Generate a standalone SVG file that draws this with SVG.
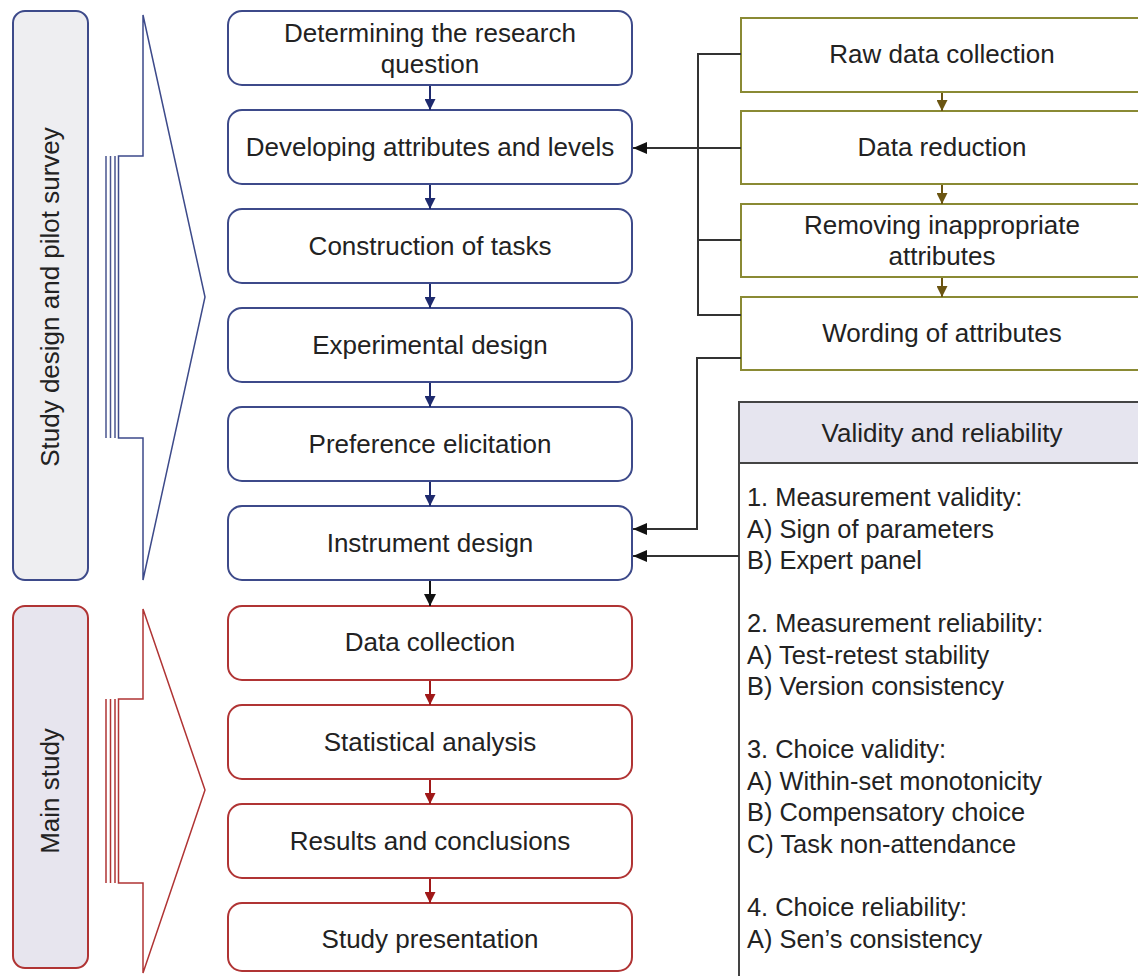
<svg xmlns="http://www.w3.org/2000/svg" width="1138" height="976" viewBox="0 0 1138 976">
<defs>
<style>
text{font-family:"Liberation Sans",Arial,sans-serif;font-size:26px;fill:#222;}
.c{text-anchor:middle;}
.v{font-size:25.4px;}
.blue{fill:#fff;stroke:#3d4a8a;stroke-width:2;}
.red{fill:#fff;stroke:#b03434;stroke-width:2;}
.olive{fill:#fff;stroke:#8a8a34;stroke-width:2;}
.ln{fill:none;stroke:#333;stroke-width:2;}
</style>
<marker id="aNavy" viewBox="0 0 10 10" refX="10" refY="5" markerWidth="11" markerHeight="11" markerUnits="userSpaceOnUse" orient="auto"><path d="M0,0 L10,5 L0,10 Z" fill="#1e2a6e"/></marker>
<marker id="aRed" viewBox="0 0 10 10" refX="10" refY="5" markerWidth="11" markerHeight="11" markerUnits="userSpaceOnUse" orient="auto"><path d="M0,0 L10,5 L0,10 Z" fill="#a01818"/></marker>
<marker id="aBlack" viewBox="0 0 10 10" refX="10" refY="5" markerWidth="12" markerHeight="12" markerUnits="userSpaceOnUse" orient="auto"><path d="M0,0 L10,5 L0,10 Z" fill="#111"/></marker>
<marker id="aOlive" viewBox="0 0 10 10" refX="10" refY="5" markerWidth="11" markerHeight="11" markerUnits="userSpaceOnUse" orient="auto"><path d="M0,0 L10,5 L0,10 Z" fill="#6b5512"/></marker>
<marker id="aLeft" viewBox="0 0 14 12" refX="14" refY="6" markerWidth="14" markerHeight="12" markerUnits="userSpaceOnUse" orient="auto"><path d="M0,0 L14,6 L0,12 Z" fill="#111"/></marker>
</defs>
<rect width="1138" height="976" fill="#fff"/>

<g id="phase-design">
<rect x="13" y="11" width="75" height="569" rx="12" fill="#eeeef1" stroke="#3d4a8a" stroke-width="2"/>
<text class="c" transform="translate(59,297) rotate(-90)">Study design and pilot survey</text>
<path d="M143,15 L205,297 L143,580 L143,438 L118.5,438 L118.5,156 L143,156 Z" fill="#fff" stroke="#3d4a8a" stroke-width="1.5"/>
<path d="M106,156 V438 M110.5,156 V438 M115,156 V438" stroke="#4a5590" stroke-width="1.5" fill="none"/>
</g>
<g id="phase-main">
<rect x="13" y="606" width="75" height="362" rx="12" fill="#e7e5ee" stroke="#b03434" stroke-width="2"/>
<text class="c" transform="translate(59,791) rotate(-90)">Main study</text>
<path d="M143,609 L205,790 L143,973 L143,883 L118.5,883 L118.5,699 L143,699 Z" fill="#fff" stroke="#b03434" stroke-width="1.5"/>
<path d="M106,699 V883 M110.5,699 V883 M115,699 V883" stroke="#b03434" stroke-width="1.5" fill="none"/>
</g>

<g id="n1"><rect class="blue" x="228" y="11" width="404" height="74" rx="14"/><text class="c" x="430" y="42">Determining the research</text><text class="c" x="430" y="73">question</text></g>
<g id="n2"><rect class="blue" x="228" y="110" width="404" height="74" rx="14"/><text class="c" x="430" y="156">Developing attributes and levels</text></g>
<g id="n3"><rect class="blue" x="228" y="209" width="404" height="74" rx="14"/><text class="c" x="430" y="255">Construction of tasks</text></g>
<g id="n4"><rect class="blue" x="228" y="308" width="404" height="74" rx="14"/><text class="c" x="430" y="354">Experimental design</text></g>
<g id="n5"><rect class="blue" x="228" y="407" width="404" height="74" rx="14"/><text class="c" x="430" y="453">Preference elicitation</text></g>
<g id="n6"><rect class="blue" x="228" y="506" width="404" height="74" rx="14"/><text class="c" x="430" y="552">Instrument design</text></g>
<g id="n7"><rect class="red" x="228" y="606" width="404" height="74" rx="14"/><text class="c" x="430" y="651">Data collection</text></g>
<g id="n8"><rect class="red" x="228" y="705" width="404" height="74" rx="14"/><text class="c" x="430" y="751">Statistical analysis</text></g>
<g id="n9"><rect class="red" x="228" y="804" width="404" height="74" rx="14"/><text class="c" x="430" y="850">Results and conclusions</text></g>
<g id="n10"><rect class="red" x="228" y="903" width="404" height="68" rx="14"/><text class="c" x="430" y="948">Study presentation</text></g>

<g id="r1"><rect class="olive" x="741" y="18" width="404" height="74"/><text class="c" x="942" y="63">Raw data collection</text></g>
<g id="r2"><rect class="olive" x="741" y="111" width="404" height="73"/><text class="c" x="942" y="156">Data reduction</text></g>
<g id="r3"><rect class="olive" x="741" y="204" width="404" height="73"/><text class="c" x="942" y="234">Removing inappropriate</text><text class="c" x="942" y="265">attributes</text></g>
<g id="r4"><rect class="olive" x="741" y="297" width="404" height="73"/><text class="c" x="942" y="342">Wording of attributes</text></g>

<g id="validity">
<rect x="739" y="402" width="406" height="580" fill="#fff" stroke="#444" stroke-width="2"/>
<rect x="739" y="402" width="406" height="61" fill="#e6e5ef" stroke="#444" stroke-width="2"/>
<text class="c" x="942" y="442">Validity and reliability</text>
<text class="v" x="747" y="506">1. Measurement validity:</text>
<text class="v" x="747" y="538">A) Sign of parameters</text>
<text class="v" x="747" y="569">B) Expert panel</text>
<text class="v" x="747" y="632">2. Measurement reliability:</text>
<text class="v" x="747" y="664">A) Test-retest stability</text>
<text class="v" x="747" y="695">B) Version consistency</text>
<text class="v" x="747" y="758">3. Choice validity:</text>
<text class="v" x="747" y="790">A) Within-set monotonicity</text>
<text class="v" x="747" y="821">B) Compensatory choice</text>
<text class="v" x="747" y="853">C) Task non-attendance</text>
<text class="v" x="747" y="916">4. Choice reliability:</text>
<text class="v" x="747" y="948">A) Sen’s consistency</text>
</g>

<g id="connectors">
<g stroke="#1e2a6e" stroke-width="2">
<line x1="430" y1="86" x2="430" y2="110" marker-end="url(#aNavy)"/>
<line x1="430" y1="185" x2="430" y2="209" marker-end="url(#aNavy)"/>
<line x1="430" y1="284" x2="430" y2="308" marker-end="url(#aNavy)"/>
<line x1="430" y1="383" x2="430" y2="407" marker-end="url(#aNavy)"/>
<line x1="430" y1="482" x2="430" y2="506" marker-end="url(#aNavy)"/>
</g>
<line x1="430" y1="581" x2="430" y2="606" stroke="#111" stroke-width="2" marker-end="url(#aBlack)"/>
<g stroke="#a01818" stroke-width="2">
<line x1="430" y1="681" x2="430" y2="705" marker-end="url(#aRed)"/>
<line x1="430" y1="780" x2="430" y2="804" marker-end="url(#aRed)"/>
<line x1="430" y1="879" x2="430" y2="903" marker-end="url(#aRed)"/>
</g>
<g stroke="#6b5512" stroke-width="2">
<line x1="942" y1="93" x2="942" y2="111" marker-end="url(#aOlive)"/>
<line x1="942" y1="185" x2="942" y2="204" marker-end="url(#aOlive)"/>
<line x1="942" y1="278" x2="942" y2="297" marker-end="url(#aOlive)"/>
</g>
<path class="ln" d="M741,54 H698 V315 H741 M698,240 H741"/>
<line class="ln" x1="741" y1="148" x2="633" y2="148" marker-end="url(#aLeft)"/>
<path class="ln" d="M741,358 H697 V529 H633" marker-end="url(#aLeft)"/>
<line class="ln" x1="739" y1="556" x2="633" y2="556" marker-end="url(#aLeft)"/>
</g>
</svg>
